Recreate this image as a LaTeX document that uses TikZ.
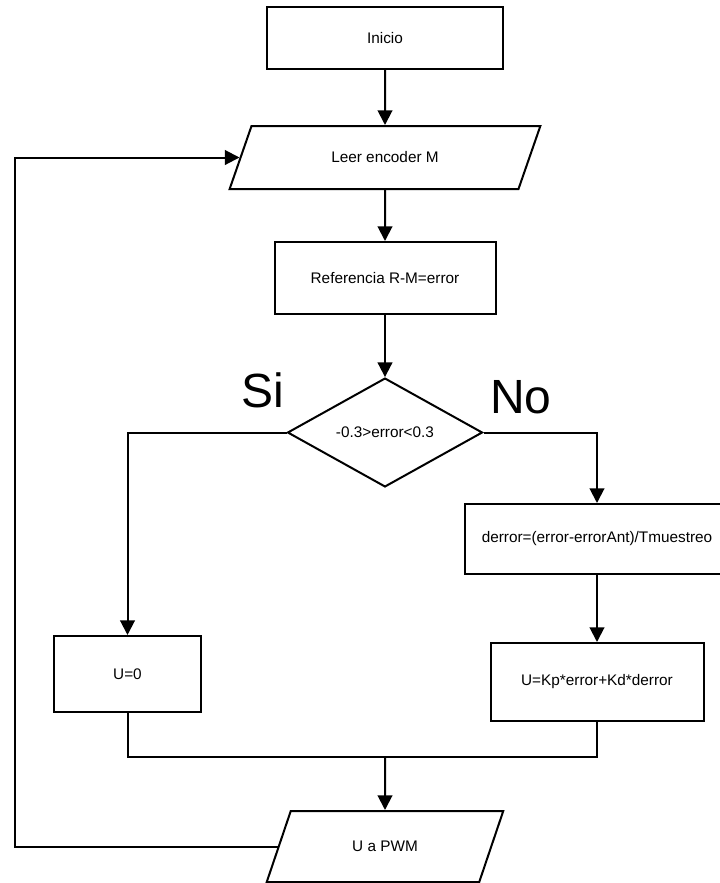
\documentclass[tikz,border=0pt]{standalone}
\usepackage{fontspec}
\setmainfont{Liberation Sans}
\usetikzlibrary{shapes.geometric,arrows.meta}

\begin{document}
\begin{tikzpicture}[x=0.75pt,y=-0.75pt,
  box/.style={draw,line width=1.5pt,rectangle,inner sep=0pt,font=\fontsize{11.5}{13}\selectfont},
  io/.style={draw,line width=1.5pt,trapezium,trapezium left angle=52,trapezium right angle=128,trapezium stretches,inner sep=0pt,font=\fontsize{11.5}{13}\selectfont},
  decision/.style={draw,line width=1.5pt,diamond,inner sep=0pt,font=\fontsize{11.5}{13}\selectfont},
  flow/.style={line width=1.5pt,-{Triangle[length=11pt,width=11pt]}},
  link/.style={line width=1.5pt},
  big/.style={font=\fontsize{36}{40}\selectfont}]
\useasboundingbox[fill=white] (0,0) rectangle (719,883);

 \node[box,minimum width=177pt,minimum height=46.5pt] (inicio) at (385,38) {Inicio};
 \node[io,minimum width=234.75pt,minimum height=47.25pt] (leer) at (385,157.5) {Leer encoder M};
 \node[box,minimum width=165.75pt,minimum height=54pt] (ref) at (385,278) {Referencia R-M=error};
 \node[decision,minimum width=146.25pt,minimum height=80.25pt] (cond) at (385,432.5) {-0.3>error<0.3};

 \node[box,minimum width=110.25pt,minimum height=57pt] (uzero) at (127.5,674) {U=0};
 \node[box,minimum width=198pt,minimum height=52.5pt] (derror) at (597,539) {derror=(error-errorAnt)/Tmuestreo};
 \node[box,minimum width=159.75pt,minimum height=58.5pt] (ukp) at (597,682) {U=Kp*error+Kd*derror};
 \node[io,minimum width=178.5pt,minimum height=53.25pt] (pwm) at (385,846.5) {U a PWM};

 \node[big] (si) at (263,390) {Si};
 \node[big] (no) at (521,397) {No};

 \coordinate (merge) at (385,757);
 \coordinate (back) at (15,500);

 \draw[flow] (inicio) -- (leer);
 \draw[flow] (leer) -- (ref);
 \draw[flow] (ref) -- (cond);

 \draw[flow] (cond.west) -| (uzero.north);
 \draw[flow] (cond.east) -| (derror.north);
 \draw[flow] (derror) -- (ukp);

 \draw[link] (uzero.south) |- (merge);
 \draw[link] (ukp.south) |- (merge);
 \draw[flow] (merge) -- (pwm.north);

 \draw[flow] (pwm.west) -| (back) |- (leer.west);
\end{tikzpicture}
\end{document}
